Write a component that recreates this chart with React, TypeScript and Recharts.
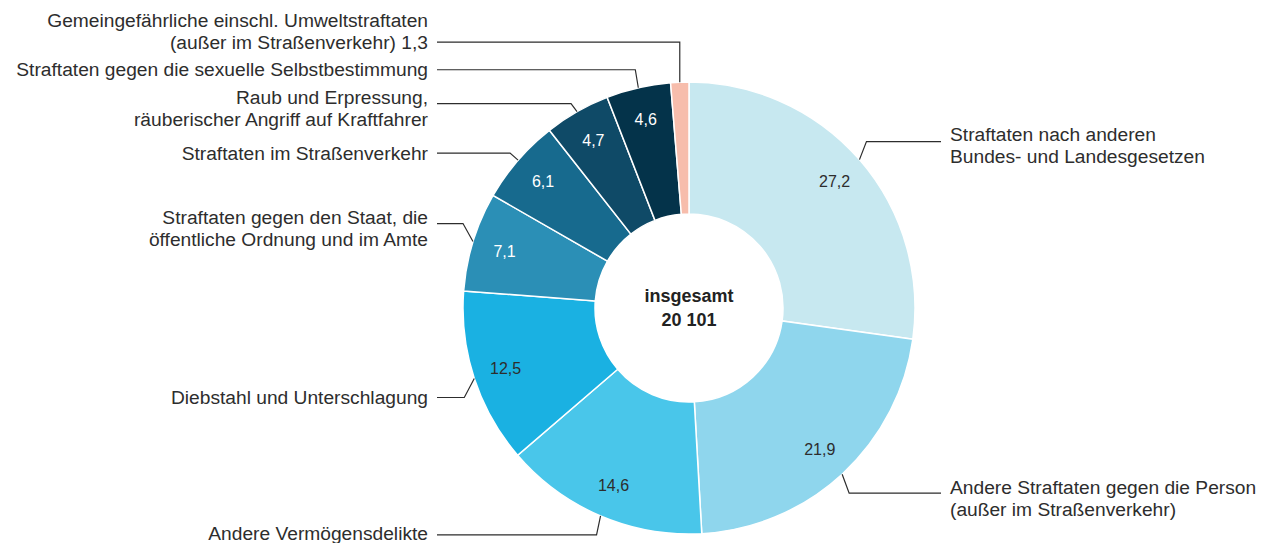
import { Cell, Pie, PieChart } from "recharts";

// shares in percent, clockwise from 12 o'clock
const categories = [
  ["Straftaten nach anderen", "Bundes- und Landesgesetzen"],
  ["Andere Straftaten gegen die Person", "(außer im Straßenverkehr)"],
  ["Andere Vermögensdelikte"],
  ["Diebstahl und Unterschlagung"],
  ["Straftaten gegen den Staat, die", "öffentliche Ordnung und im Amte"],
  ["Straftaten im Straßenverkehr"],
  ["Raub und Erpressung,", "räuberischer Angriff auf Kraftfahrer"],
  ["Straftaten gegen die sexuelle Selbstbestimmung"],
  ["Gemeingefährliche einschl. Umweltstraftaten", "(außer im Straßenverkehr)"],
];
const shares = [27.2, 21.9, 14.6, 12.5, 7.1, 6.1, 4.7, 4.6, 1.3];
const total = "20 101";
const centerCaption = "insgesamt";

const colors = [
  "#c7e8f0",
  "#8fd6ed",
  "#49c6ea",
  "#1ab1e2",
  "#2b8fb6",
  "#176a8e",
  "#0f4a67",
  "#04334a",
  "#f7bdac",
];
const lightText = [false, false, false, false, true, true, true, true, false];

// leader line elbow offsets from the slice edge, and text shift vs. the line
const leaders = [
  { dx: 7, dy: -18, shift: -7 },
  { dx: 7, dy: 19, shift: -6 },
  { dx: -4, dy: 19, shift: -1 },
  { dx: -10, dy: 19, shift: 0 },
  { dx: -10, dy: -18, shift: -6 },
  { dx: -8, dy: -7, shift: 0 },
  { dx: -6, dy: -8, shift: -6 },
  { dx: -3, dy: -18, shift: 0 },
  { dx: 0, dy: -40, shift: -22 },
];

const fmt = (v: number) => v.toFixed(1).replace(".", ",");

const data = shares.map((value, i) => ({ name: categories[i].join(" "), value }));

const FONT = "'Liberation Sans', Arial, sans-serif";
const INK = "#2d2d2d";
const RIGHT_TEXT_X = 950;
const LEFT_TEXT_X = 428;
const LINE_H = 22;

function renderLabel(props: any) {
  const { cx, cy, midAngle, outerRadius, index, value } = props;
  const rad = (Math.PI / 180) * midAngle;
  const sx = cx + outerRadius * Math.cos(rad);
  const sy = cy - outerRadius * Math.sin(rad);
  const lay = leaders[index];
  const ex = sx + lay.dx;
  const ey = sy + lay.dy;
  const right = Math.cos(rad) > 0.05;
  const endX = right ? RIGHT_TEXT_X - 9 : LEFT_TEXT_X + 9;
  const textX = right ? RIGHT_TEXT_X : LEFT_TEXT_X;
  const small = value < 2;
  const lines = [...categories[index]];
  if (small) lines[lines.length - 1] += " " + fmt(value);
  const vr = 193;
  const vx = cx + vr * Math.cos(rad);
  const vy = cy - vr * Math.sin(rad);
  return (
    <g key={`lab-${index}`}>
      {index === 0 && (
        <g>
          <text x={cx} y={cy - 12} textAnchor="middle" dominantBaseline="central" fontFamily={FONT} fontSize={18} fontWeight="bold" fill="#222">
            {centerCaption}
          </text>
          <text x={cx} y={cy + 12} textAnchor="middle" dominantBaseline="central" fontFamily={FONT} fontSize={18} fontWeight="bold" fill="#222">
            {total}
          </text>
        </g>
      )}
      {!small && (
        <text x={vx} y={vy} textAnchor="middle" dominantBaseline="central" fontFamily={FONT} fontSize={16} fill={lightText[index] ? "#ffffff" : INK}>
          {fmt(value)}
        </text>
      )}
      <polyline points={`${sx},${sy} ${ex},${ey} ${endX},${ey}`} fill="none" stroke={INK} strokeWidth={1.2} />
      {lines.map((t, k) => (
        <text
          key={k}
          x={textX}
          y={ey + lay.shift + k * LINE_H}
          textAnchor={right ? "start" : "end"}
          dominantBaseline="central"
          fontFamily={FONT}
          fontSize={19.2}
          fill={INK}
        >
          {t}
        </text>
      ))}
    </g>
  );
}

export default function App() {
  return (
    <div style={{ position: "absolute", left: 0, top: 0, width: 1261, height: 543, background: "#fff" }}>
      <PieChart width={1261} height={543} margin={{ top: 0, right: 0, bottom: 0, left: 0 }}>
        <Pie
          data={data}
          dataKey="value"
          nameKey="name"
          cx={689}
          cy={308}
          innerRadius={94}
          outerRadius={226}
          startAngle={90}
          endAngle={-270}
          stroke="#ffffff"
          strokeWidth={1.5}
          label={renderLabel}
          labelLine={false}
          isAnimationActive={false}
        >
          {data.map((d, i) => (
            <Cell key={d.name} fill={colors[i]} />
          ))}
        </Pie>
      </PieChart>
    </div>
  );
}
